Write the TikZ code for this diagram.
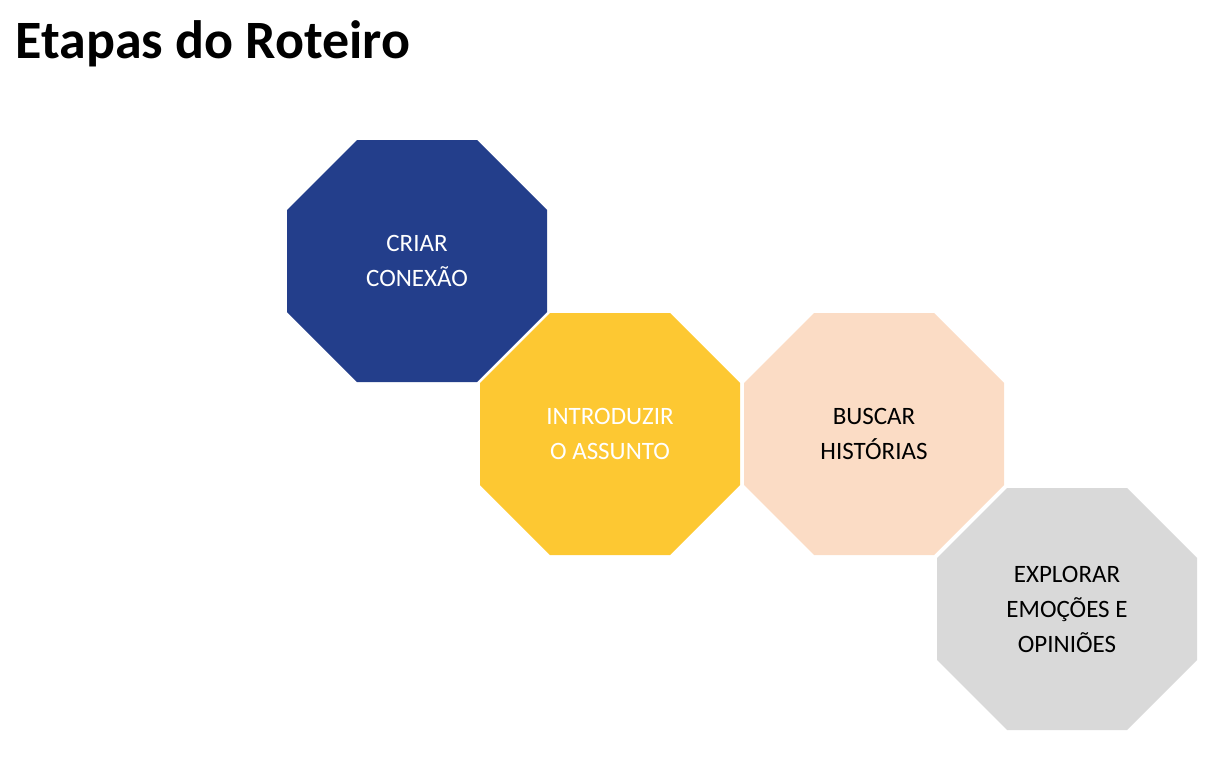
\documentclass[tikz,border=0pt]{standalone}
\usepackage{fontspec}
\setmainfont{Carlito}
\definecolor{navy}{HTML}{233E8B}
\definecolor{gold}{HTML}{FDC832}
\definecolor{peach}{HTML}{FBDCC5}
\definecolor{lgray}{HTML}{D9D9D9}
\begin{document}
\begin{tikzpicture}[x=1pt,y=-1pt,
  oct/.style={draw=none},
  lbl/.style={align=center,font=\fontsize{25}{35}\selectfont}]
\useasboundingbox (0,0) rectangle (1226,763);
\newcommand{\octo}[3]{% center x, center y, colour
  \fill[#3] (#1-60,#2-121) -- (#1+60,#2-121) -- (#1+130,#2-51) -- (#1+130,#2+51)
   -- (#1+60,#2+121) -- (#1-60,#2+121) -- (#1-130,#2+51) -- (#1-130,#2-51) -- cycle;}
\octo{417}{261}{navy}
\octo{610}{434}{gold}
\octo{874}{434}{peach}
\octo{1067}{609}{lgray}
\node[anchor=west,font=\bfseries\fontsize{54}{60}\selectfont] (title) at (12,44) {Etapas do Roteiro};
\node[lbl,text=white] (a) at (417,261) {CRIAR\\CONEXÃO};
\node[lbl,text=white] (b) at (610,434) {INTRODUZIR\\O ASSUNTO};
\node[lbl,text=black] (c) at (874,434) {BUSCAR\\HISTÓRIAS};
\node[lbl,text=black] (d) at (1067,609) {EXPLORAR\\EMOÇÕES E\\OPINIÕES};
\end{tikzpicture}
\end{document}
